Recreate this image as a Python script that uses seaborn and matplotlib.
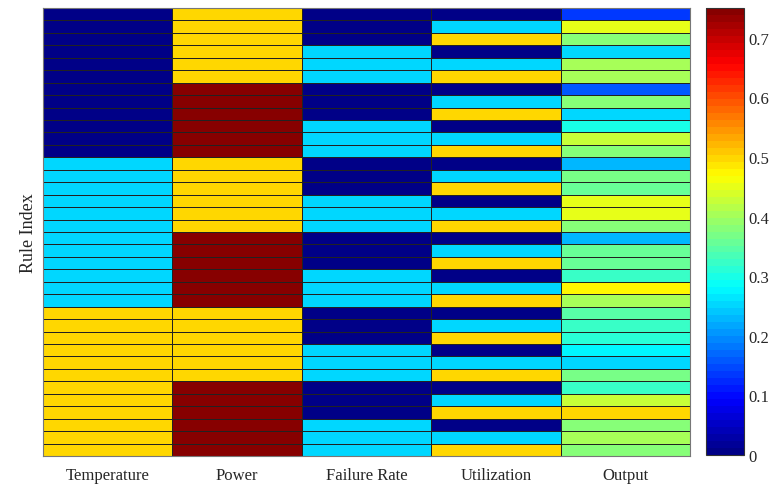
import matplotlib
matplotlib.use("Agg")
import matplotlib.pyplot as plt
from matplotlib.colors import ListedColormap
import numpy as np
import pandas as pd
import seaborn as sns

# Input membership levels per rule (36 rules)
temperature = [0.0] * 12 + [0.25] * 12 + [0.5] * 12
power = ([0.5] * 6 + [0.75] * 6) * 3
failure_rate = ([0.0] * 3 + [0.25] * 3) * 6
utilization = [0.0, 0.25, 0.5] * 12
output = [0.14, 0.446, 0.375, 0.256, 0.399, 0.41,
          0.164, 0.375, 0.256, 0.293, 0.422, 0.375,
          0.223, 0.364, 0.352, 0.446, 0.446, 0.375,
          0.23, 0.352, 0.352, 0.328, 0.469, 0.399,
          0.34, 0.328, 0.316, 0.281, 0.257, 0.364,
          0.328, 0.422, 0.495, 0.375, 0.41, 0.375]
columns = ["Temperature", "Power", "Failure Rate", "Utilization", "Output"]

df = pd.DataFrame({"Temperature": temperature, "Power": power,
                   "Failure Rate": failure_rate, "Utilization": utilization,
                   "Output": output}, columns=columns)

# MATLAB style jet with 64 levels
f = (np.arange(64) + 0.5) / 64
r = np.clip(np.minimum(4 * f - 1.5, -4 * f + 4.5), 0, 1)
g = np.clip(np.minimum(4 * f - 0.5, -4 * f + 3.5), 0, 1)
b = np.clip(np.minimum(4 * f + 0.5, -4 * f + 2.5), 0, 1)
mjet = ListedColormap(np.column_stack([r, g, b]))

sns.set_style("white")
plt.rcParams["font.family"] = ["Liberation Serif", "DejaVu Serif"]

fig = plt.figure(figsize=(7.72, 4.85), dpi=100)
ax = fig.add_axes([0.0557, 0.0577, 0.838, 0.9237])
cax = fig.add_axes([0.9145, 0.0597, 0.049, 0.9217])

sns.heatmap(df, cmap=mjet, vmin=0, vmax=0.75, ax=ax, cbar_ax=cax,
            linewidths=0.6, linecolor="#222222", yticklabels=False)

ax.set_ylabel("Rule Index", fontsize=13)
ax.tick_params(axis="x", length=0, labelsize=12, pad=8)
for s in ax.spines.values():
    s.set_visible(True)
    s.set_color("#777777")
    s.set_linewidth(0.8)

cbar = ax.collections[0].colorbar
cbar.set_ticks([0, 0.1, 0.2, 0.3, 0.4, 0.5, 0.6, 0.7])
cbar.set_ticklabels(["0", "0.1", "0.2", "0.3", "0.4", "0.5", "0.6", "0.7"])
cax.tick_params(labelsize=12, direction="in", length=3, color="#333333")
cbar.outline.set_visible(True)
cbar.outline.set_edgecolor("#333333")
cbar.outline.set_linewidth(0.8)

fig.savefig("out.png", dpi=100)
